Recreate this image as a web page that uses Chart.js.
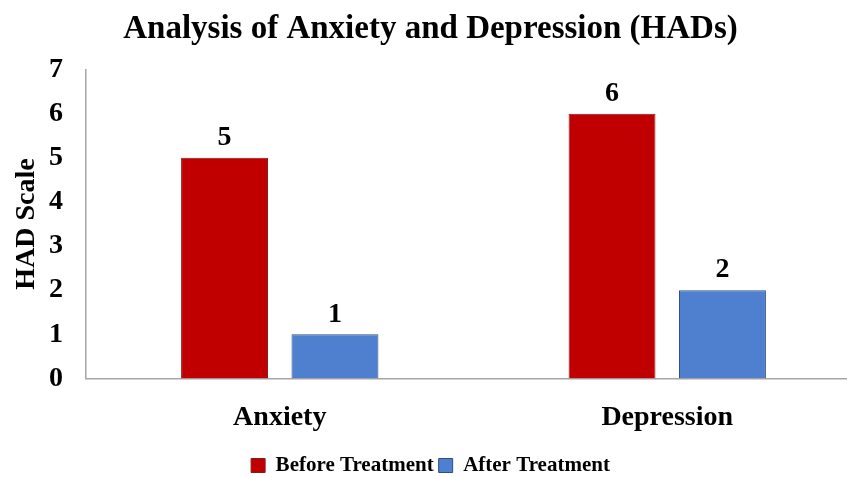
<!DOCTYPE html>
<html>
<head>
<meta charset="utf-8">
<script src="https://cdn.jsdelivr.net/npm/chart.js@4"></script>
<style>
  html, body { margin: 0; padding: 0; background: #ffffff; overflow: hidden; }
  #wrap { width: 866px; height: 477px; position: relative; }
</style>
</head>
<body>
<div id="wrap"><canvas id="c"></canvas></div>
<script>
const categories = ["Anxiety", "Depression"];
const beforeTreatment = [5, 6];
const afterTreatment = [1, 2];
const seriesNames = ["Before Treatment", "After Treatment"];
const yTicks = [0, 1, 2, 3, 4, 5, 6, 7];

const FONT = "'Liberation Serif', 'Times New Roman', serif";

const valueLabels = {
  id: 'valueLabels',
  afterDatasetsDraw(chart) {
    const ctx = chart.ctx;
    ctx.save();
    ctx.font = "bold 28px " + FONT;
    ctx.fillStyle = '#000000';
    ctx.textAlign = 'center';
    ctx.textBaseline = 'bottom';
    chart.data.datasets.forEach((ds, i) => {
      const meta = chart.getDatasetMeta(i);
      meta.data.forEach((bar, j) => {
        ctx.fillText(String(ds.data[j]), bar.x, bar.y - 6);
      });
    });
    ctx.restore();
  }
};

new Chart(document.getElementById('c'), {
  type: 'bar',
  data: {
    labels: categories,
    datasets: [
      {
        label: seriesNames[0],
        data: beforeTreatment,
        backgroundColor: '#C00000',
        borderColor: '#8B1A1A',
        borderWidth: 1,
        categoryPercentage: 0.57,
        barPercentage: 0.787
      },
      {
        label: seriesNames[1],
        data: afterTreatment,
        backgroundColor: '#4F7FCF',
        borderColor: '#2F4F80',
        borderWidth: 1,
        categoryPercentage: 0.57,
        barPercentage: 0.787
      }
    ]
  },
  options: {
    responsive: true,
    maintainAspectRatio: false,
    animation: false,
    layout: { padding: { top: 0, right: 5, bottom: -9, left: 0 } },
    plugins: {
      title: {
        display: true,
        text: 'Analysis of Anxiety and Depression (HADs)',
        color: '#000000',
        font: { family: FONT, size: 33, weight: 'bold' },
        padding: { top: 10, bottom: 20 }
      },
      legend: {
        display: true,
        position: 'bottom',
        labels: {
          color: '#000000',
          font: { family: FONT, size: 21, weight: 'bold' },
          boxWidth: 14,
          boxHeight: 14,
          padding: 5
        }
      },
      tooltip: { enabled: false }
    },
    scales: {
      x: {
        grid: { display: false },
        border: { display: true, color: '#A6A6A6', width: 1.5 },
        ticks: {
          color: '#000000',
          font: { family: FONT, size: 28, weight: 'bold' },
          padding: 15
        }
      },
      y: {
        min: 0,
        max: 7,
        afterBuildTicks(scale) {
          scale.ticks = yTicks.map(v => ({ value: v }));
        },
        afterFit(scale) { scale.width = 86; },
        grid: { display: false },
        border: { display: true, color: '#A6A6A6', width: 1.5 },
        ticks: {
          color: '#000000',
          font: { family: FONT, size: 28, weight: 'bold' },
          padding: 15,
          stepSize: 1
        },
        title: {
          display: true,
          text: 'HAD Scale',
          color: '#000000',
          font: { family: FONT, size: 28, weight: 'bold' },
          padding: { top: 10, bottom: 0 }
        }
      }
    }
  },
  plugins: [valueLabels]
});
</script>
</body>
</html>
